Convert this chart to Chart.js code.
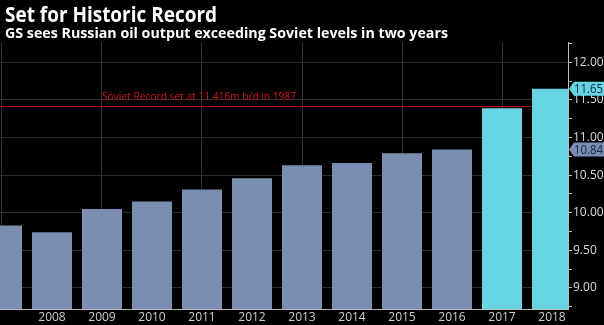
<!DOCTYPE html>
<html>
<head>
<meta charset="utf-8">
<script src="https://cdn.jsdelivr.net/npm/chart.js@4"></script>
<style>
  html, body { margin: 0; padding: 0; background: #000; }
  canvas { display: block; }
</style>
</head>
<body>
<canvas id="chart" width="604" height="325"></canvas>
<script>
// Russian oil output, million barrels per day
const years = [2007, 2008, 2009, 2010, 2011, 2012, 2013, 2014, 2015, 2016, 2017, 2018];
const output = [9.83, 9.74, 10.05, 10.15, 10.31, 10.46, 10.63, 10.66, 10.79, 10.84, 11.39, 11.65];
const forecastFrom = 2017;
const sovietRecord = 11.416;
const sovietLabel = 'Soviet Record set at 11.416m b/d in 1987';
const title = 'Set for Historic Record';
const subtitle = 'GS sees Russian oil output exceeding Soviet levels in two years';

const actualColor = '#7b8eb1';
const forecastColor = '#67d5e4';

const barColors = years.map(y => y >= forecastFrom ? forecastColor : actualColor);

// last value of actual and forecast runs get a tag on the right axis
const lastActual = years.filter(y => y < forecastFrom).length - 1;
const lastForecast = years.length - 1;

const extras = {
    id: 'extras',
    beforeDraw(chart) {
        const ctx = chart.ctx;
        ctx.save();
        ctx.fillStyle = '#fff';
        ctx.textBaseline = 'alphabetic';
        ctx.font = 'bold 21px "Open Sans", sans-serif';
        ctx.fillText(title, 5, 22, 212);
        ctx.font = 'bold 15px "Open Sans", sans-serif';
        ctx.fillText(subtitle, 5, 38, 443);
        ctx.restore();
    },
    beforeDatasetsDraw(chart) {
        const ctx = chart.ctx;
        const area = chart.chartArea;
        const y = chart.scales.y.getPixelForValue(sovietRecord);
        ctx.save();
        ctx.strokeStyle = '#a8101a';
        ctx.lineWidth = 1;
        ctx.beginPath();
        ctx.moveTo(area.left, Math.round(y) + 0.5);
        ctx.lineTo(area.right, Math.round(y) + 0.5);
        ctx.stroke();
        ctx.fillStyle = '#d0141e';
        ctx.font = '11px "Open Sans", sans-serif';
        ctx.fillText(sovietLabel, 102, y - 6, 194);
        ctx.restore();
    },
    afterDraw(chart) {
        const ctx = chart.ctx;
        const x0 = chart.chartArea.right + 1;
        [lastActual, lastForecast].forEach(i => {
            const y = chart.scales.y.getPixelForValue(output[i]);
            ctx.save();
            ctx.fillStyle = barColors[i];
            ctx.beginPath();
            ctx.moveTo(x0, y);
            ctx.lineTo(x0 + 5, y - 7);
            ctx.lineTo(604, y - 7);
            ctx.lineTo(604, y + 7);
            ctx.lineTo(x0 + 5, y + 7);
            ctx.closePath();
            ctx.fill();
            ctx.fillStyle = '#15234a';
            ctx.font = '12px "Open Sans", sans-serif';
            ctx.textBaseline = 'middle';
            ctx.fillText(output[i].toFixed(2), x0 + 5, y + 1, 29);
            ctx.restore();
        });
    }
};

new Chart('chart', {
    type: 'bar',
    data: {
        datasets: [{
            label: 'Russian oil output',
            data: years.map((y, i) => ({ x: y, y: output[i] })),
            backgroundColor: barColors,
            barPercentage: 0.8,
            categoryPercentage: 1,
        }]
    },
    options: {
        responsive: false,
        animation: false,
        layout: { padding: { top: 42, left: 0, right: 0, bottom: 0 } },
        plugins: {
            legend: { display: false },
            tooltip: { enabled: false },
        },
        scales: {
            x: {
                type: 'linear',
                offset: false,
                min: 2006.96,
                max: 2018.32,
                ticks: {
                    stepSize: 1,
                    includeBounds: false,
                    autoSkip: false,
                    maxRotation: 0,
                    color: '#cfcfcf',
                    font: { size: 12, family: '"Open Sans", sans-serif' },
                    padding: 1,
                    // first year sits on the cut-off left edge, so no label
                    callback: v => v === years[0] ? '' : String(v),
                },
                grid: {
                    offset: false,
                    drawTicks: false,
                    color: c => (c.tick && c.tick.value % 2 === 1) ? '#333' : 'transparent',
                },
                border: { color: '#bdbdbd' },
                afterFit: s => { s.height = 16; s.paddingLeft = 0; s.paddingRight = 0; },
            },
            y: {
                position: 'right',
                min: 8.72,
                max: 12.27,
                ticks: {
                    stepSize: 0.25,
                    includeBounds: false,
                    autoSkip: false,
                    color: '#dcdcdc',
                    font: { size: 12, family: '"Open Sans", sans-serif' },
                    padding: 1,
                    callback: v => Math.round(v * 100) % 50 === 0 ? v.toFixed(2) : '',
                },
                grid: {
                    tickLength: 4,
                    tickColor: '#bdbdbd',
                    color: c => (c.tick && Math.round(c.tick.value * 100) % 50 === 0) ? '#2c2c2c' : 'transparent',
                },
                border: { color: '#bdbdbd' },
                afterFit: s => { s.width = 36; },
            }
        }
    },
    plugins: [extras]
});
</script>
</body>
</html>
